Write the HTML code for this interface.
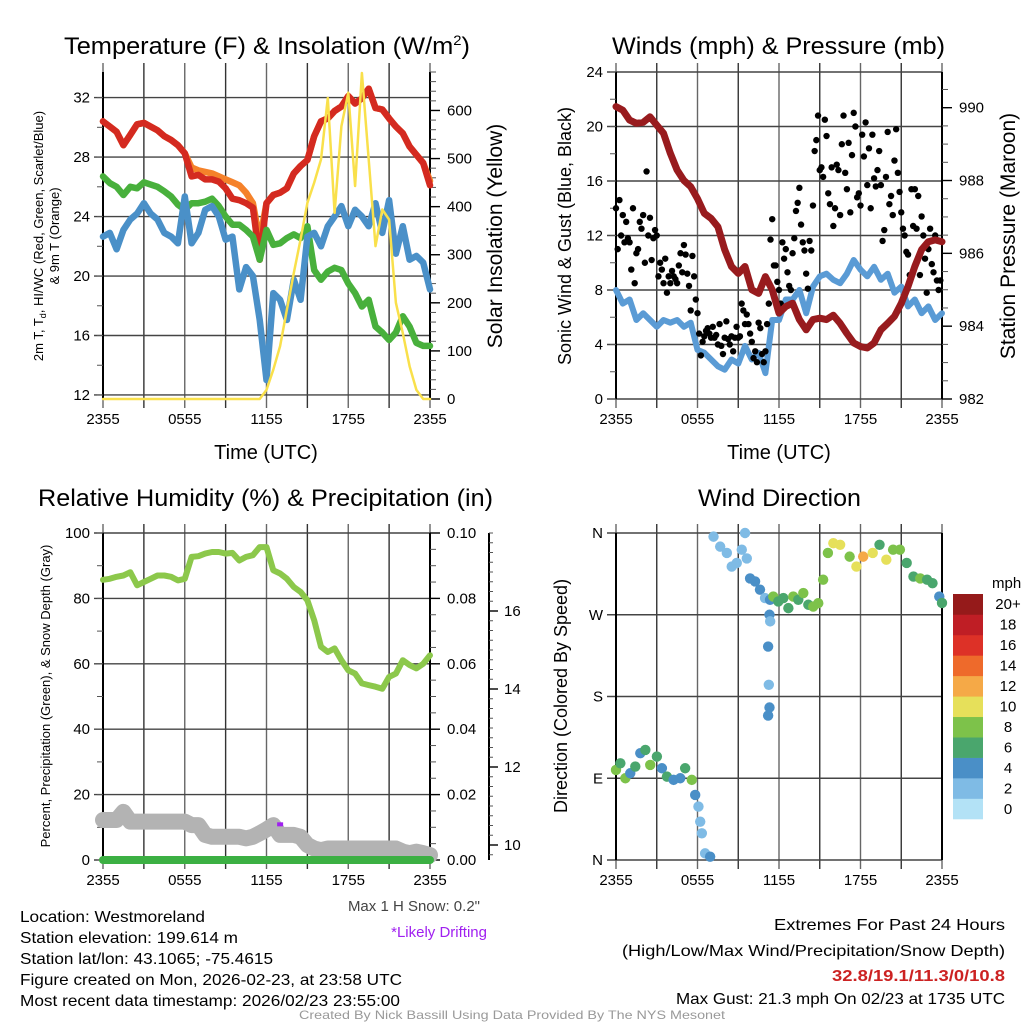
<!DOCTYPE html>
<html><head><meta charset="utf-8"><style>
html,body{margin:0;padding:0;background:#fff;}
svg{display:block;font-family:"Liberation Sans",Arial,sans-serif;}
</style></head><body>
<svg id="fig" width="1024" height="1024" viewBox="0 0 1024 1024" xmlns="http://www.w3.org/2000/svg">
<g id="static">
<text x="64" y="54" font-size="24" textLength="406" lengthAdjust="spacingAndGlyphs">Temperature (F) &amp; Insolation (W/m<tspan dy="-9" font-size="14">2</tspan><tspan dy="9">)</tspan></text>
<text x="612" y="54" font-size="24" textLength="333" lengthAdjust="spacingAndGlyphs">Winds (mph) &amp; Pressure (mb)</text>
<text x="38" y="506" font-size="24" textLength="455" lengthAdjust="spacingAndGlyphs">Relative Humidity (%) &amp; Precipitation (in)</text>
<text x="698" y="506" font-size="24" textLength="163" lengthAdjust="spacingAndGlyphs">Wind Direction</text>

<text x="266" y="459" font-size="20" text-anchor="middle">Time (UTC)</text>
<text x="779" y="459" font-size="20" text-anchor="middle">Time (UTC)</text>

<text transform="translate(43,236) rotate(-90)" font-size="13" text-anchor="middle">2m T, T<tspan font-size="9" dy="3">d</tspan><tspan dy="-3">, HI/WC (Red, Green, Scarlet/Blue)</tspan></text>
<text transform="translate(59,236) rotate(-90)" font-size="13" text-anchor="middle">&amp; 9m T (Orange)</text>
<text transform="translate(502,236) rotate(-90)" font-size="21" text-anchor="middle">Solar Insolation (Yellow)</text>
<text transform="translate(571,236) rotate(-90)" font-size="18" text-anchor="middle">Sonic Wind &amp; Gust (Blue, Black)</text>
<text transform="translate(1015,236) rotate(-90)" font-size="21" text-anchor="middle">Station Pressure (Maroon)</text>
<text transform="translate(50,696) rotate(-90)" font-size="13" text-anchor="middle">Percent, Precipitation (Green), &amp; Snow Depth (Gray)</text>
<text transform="translate(567,696) rotate(-90)" font-size="18" text-anchor="middle">Direction (Colored By Speed)</text>

<text x="480" y="911" font-size="15" fill="#444" text-anchor="end">Max 1 H Snow: 0.2"</text>
<text x="487" y="937" font-size="15" fill="#a020f0" text-anchor="end">*Likely Drifting</text>
<text x="20" y="922" font-size="16" textLength="185" lengthAdjust="spacingAndGlyphs">Location: Westmoreland</text>
<text x="20" y="943" font-size="16" textLength="218" lengthAdjust="spacingAndGlyphs">Station elevation: 199.614 m</text>
<text x="20" y="964" font-size="16" textLength="253" lengthAdjust="spacingAndGlyphs">Station lat/lon: 43.1065; -75.4615</text>
<text x="20" y="985" font-size="16" textLength="382" lengthAdjust="spacingAndGlyphs">Figure created on Mon, 2026-02-23, at 23:58 UTC</text>
<text x="20" y="1006" font-size="16" textLength="380" lengthAdjust="spacingAndGlyphs">Most recent data timestamp: 2026/02/23 23:55:00</text>
<text x="1005" y="930" font-size="16" text-anchor="end" textLength="231" lengthAdjust="spacingAndGlyphs">Extremes For Past 24 Hours</text>
<text x="1005" y="956" font-size="16" text-anchor="end" textLength="383" lengthAdjust="spacingAndGlyphs">(High/Low/Max Wind/Precipitation/Snow Depth)</text>
<text x="1005" y="981" font-size="16" font-weight="bold" fill="#cc2222" text-anchor="end" textLength="173" lengthAdjust="spacingAndGlyphs">32.8/19.1/11.3/0/10.8</text>
<text x="1005" y="1004" font-size="16" text-anchor="end" textLength="329" lengthAdjust="spacingAndGlyphs">Max Gust: 21.3 mph On 02/23 at 1735 UTC</text>
<text x="512" y="1019" font-size="12" fill="#999" text-anchor="middle" textLength="426" lengthAdjust="spacingAndGlyphs">Created By Nick Bassill Using Data Provided By The NYS Mesonet</text>
</g>
</svg>
<script>
// ---------- data (half-hour steps, hours 0..24) ----------
const timeLabels = ["2355","0555","1155","1755","2355"];
const tempRed = [30.4,30.05,29.7,28.8,29.5,30.2,30.3,30.05,29.8,29.4,29.15,28.8,28.25,26.7,26.8,26.5,26.5,26.35,25.9,25.2,25.1,24.9,24.6,21.1,24.9,25.45,25.6,25.9,26.9,27.4,27.8,29.4,30.4,30.6,31.1,31.4,32.1,31.6,31.95,32.6,31.3,31.2,30.6,30.05,29.6,28.7,28.15,27.6,26.1];
const temp9m = [30.4,30.05,29.7,28.8,29.5,30.2,30.3,30.05,29.8,29.4,29.15,28.8,28.25,27.3,27.1,27.0,26.9,26.7,26.5,26.3,26.1,25.6,24.9,22.4,24.9,25.45,25.6,25.9,26.9,27.4,27.8,29.4,30.4,30.6,31.1,31.4,32.1,31.6,31.95,32.6,31.3,31.2,30.6,30.05,29.6,28.7,28.15,27.6,26.4];
const dewGreen = [26.7,26.25,26.0,25.45,26.0,25.9,26.3,26.15,26.0,25.7,25.35,24.8,24.45,24.9,24.9,25.0,25.2,24.7,24.0,23.45,23.45,23.1,22.65,21.1,23.1,22.1,22.2,22.55,22.8,22.55,23.35,20.4,19.75,20.3,20.55,20.4,19.5,18.85,17.95,18.4,16.6,16.2,15.7,16.2,17.3,16.6,15.5,15.3,15.3];
const hiwcBlue = [22.65,22.9,21.8,23.1,23.8,24.2,24.9,24.2,23.8,22.9,22.65,22.2,25.35,22.2,22.9,24.45,24.7,24.0,22.45,22.65,19.1,20.6,20.0,17.05,13.0,18.85,18.4,17.05,19.75,18.4,22.65,22.9,22.0,23.35,24.0,24.7,23.35,24.45,24.0,23.35,24.9,22.9,25.1,21.5,23.35,21.1,21.35,20.9,19.1];
const solar = [0,0,0,0,0,0,0,0,0,0,0,0,0,0,0,0,0,0,0,0,0,0,0,0,19,61,110,186,262,332,408,450,498,626,387,567,637,443,678,498,318,394,373,200,137,68,19,0,0];
const tempTicks = [12,16,20,24,28,32];
const solarTicks = [0,100,200,300,400,500,600];

const pressure = [990.03,989.93,989.66,989.57,989.6,989.75,989.52,989.3,988.75,988.29,988.0,987.83,987.5,987.1,986.96,986.73,986.1,985.64,985.45,985.64,985.0,984.9,985.36,985.0,984.36,984.54,984.63,984.18,983.9,984.18,984.22,984.18,984.3,984.08,983.8,983.54,983.44,983.4,983.54,983.9,984.08,984.27,984.63,985.09,985.64,986.1,986.32,986.37,986.32];
const windBlue = [8.0,7.0,7.3,5.8,6.3,5.8,5.3,5.8,5.6,5.8,5.3,5.6,3.6,3.4,2.9,2.4,2.15,2.9,2.6,3.9,2.9,3.4,1.9,5.8,5.8,7.3,7.3,8.0,6.3,8.25,9.0,9.2,8.75,8.5,9.2,10.2,9.5,9.0,9.7,8.75,9.2,7.8,8.25,6.8,7.3,6.3,6.8,5.8,6.3];
// gusts, 8 per hour
const gusts = [14,11,14.6,12,13.5,11.5,13,11.8, 11.5,9.5,14,8.5,10.7,11,13,12.5, 13.5,10,16.7,12,13.3,10.2,11.8,12.4, 12,9,10,9.5,8.5,10.3,7.8,9, 8.5,9.4,9,8.8,8.5,9.8,10.7,9.3, 11.3,10.6,9.2,8.3,6.5,10.5,9,7.3, 6.3,4.8,3.2,4.2,4.6,5,5.2,4.8, 4.5,5.3,4.5,4.7,4.0,5.5,3.9,3.3, 4.5,5.7,4.4,4,4.6,3.5,4.5,5.3, 4.5,4.6,7,6.5,5.5,6.2,5.5,4.8, 4.2,3.0,3.5,2.7,5.6,5.2,3.3,2.7, 3.5,5.5,7.0,11.7,13.2,9.8,9.8,8.6, 8.0,7.0,11.5,10.3,11.0,9.3,8.3,8.0, 10.7,11.8,13.8,14.4,15.5,12.8,11.5,10.9, 9.2,8.1,11.6,10.9,14.2,18.2,19.0,20.8, 16.8,17.0,16.3,20.5,19.3,15.1,14.3,17.0, 12.7,14.0,17.2,16.8,13.5,18.7,20.8,16.6, 15.4,18.8,13.7,17.9,21.0,20.0,14.8,15.1, 14.2,19.4,17.8,20.3,15.7,18.4,14.0,19.4, 16.2,15.6,16.8,18.2,15.7,11.6,12.4,16.3, 19.6,14.3,14.9,13.5,17.5,19.8,16.6,15.2, 13.7,12.5,12.0,10.8,10.6,9.1,15.4,12.7, 15.4,12.5,14.9,9.1,13.4,12.0,10.3,7.8, 11.0,12.5,9.9,9.3,12.0,8.7,8.0,8.7];
const windTicks = [0,4,8,12,16,20,24];
const pressTicks = [982,984,986,988,990];

const rh = [85.7,86,86.6,87,88,84,85,86,87,87,86.6,85.5,86,92.7,92.9,93.7,94.2,94.2,93.7,93.9,91.6,92.7,93.2,95.7,95.7,88.6,87.6,86,83.5,82,79.4,73.3,65.2,63.6,64.7,61.1,58,57,54,53.5,53,52.4,56,57,61.1,59.6,58.6,60,62.6];
const snowDepth = [10.64,10.64,10.64,10.85,10.6,10.6,10.6,10.6,10.6,10.6,10.6,10.6,10.6,10.51,10.51,10.26,10.21,10.21,10.21,10.21,10.21,10.17,10.21,10.3,10.4,10.51,10.26,10.26,10.26,10.21,10.0,9.91,9.87,9.91,9.91,9.91,9.91,9.91,9.91,9.91,9.91,9.91,9.91,9.91,9.83,9.79,9.83,9.79,9.74];
const precip = [0,0,0,0,0,0,0,0,0,0,0,0,0,0,0,0,0,0,0,0,0,0,0,0,0,0,0,0,0,0,0,0,0,0,0,0,0,0,0,0,0,0,0,0,0,0,0,0,0];
const rhTicks = [0,20,40,60,80,100];
const precipTicks = ["0.00","0.02","0.04","0.06","0.08","0.10"];
const snowTicks = [10,12,14,16];

const dirHours = [0,0.32,0.69,1.05,1.42,1.79,2.16,2.52,3.01,3.38,3.75,4.24,4.73,5.09,5.58,5.83,6.07,6.2,6.32,6.56,6.93, 7.18,7.67,8.16,8.52,8.89,9.26,9.5,9.63,9.87,10.24,10.6,10.97,11.34, 11.3,11.35,11.2,11.25,11.3,11.2, 11.58,11.95,12.32,12.69,13.05,13.42,13.79,14.16,14.52,14.89, 15.25,15.6,16.0,16.5,17.2,17.7,18.2,18.9,19.4,19.9,20.4,20.9,21.4,21.9,22.4,22.9,23.3,23.8,24.0];
const dirDeg = [99.2,106.5,90,95.5,102.9,117.6,121.2,104.7,113.9,101,91.8,88.2,90,101,88.2,71.6,58.8,42.2,29.4,7.3,3.7, 356,345,338,323,327,341.6,360,332,310,306.7,297.6,288.4,286.5, 270,262.7,235,192.9,167.9,159, 290,284.7,288.4,277.3,290,286.5,293.9,281,279,282.7, 308.6,338,348.8,347,334,323,334,338,347,330.6,341.6,341.6,327,312,310,308.6,304.8,290,283];
const dirSpeed = [7,6,8,4,6,4,6,7,6,4,6,4,4,6,7,4,2,2,2,2,3, 2,2,2,2,2,2,2,2,4,4,3,2,3, 3,1,3,1,3,3, 8,6,6,6,8,6,8,6,8,8, 7,7,10,10,8,10,11,10,6,10,8,7,6,6,7,6,6,4,6];
const dirTicks = ["N","E","S","W","N"];
const speedLabels = ["0","2","4","6","8","10","12","14","16","18","20+"];
const speedColors = ["#b3e2f6","#7fbbe5","#4a8fc7","#4aa66d","#7dc24a","#e6e05a","#f5a947","#ee6a2b","#dd3127","#bf1e25","#951a1a"];

// ---------- helpers ----------
const NS = "http://www.w3.org/2000/svg";
const svg = document.getElementById("fig");
function mk(tag, attrs, parent) {
  const e = document.createElementNS(NS, tag);
  for (const k in attrs) e.setAttribute(k, attrs[k]);
  (parent || svg).appendChild(e);
  return e;
}
function halfHours(arr) { return arr.map((v, i) => i * 24 / (arr.length - 1)); }
function pathFrom(xs, ys) { return xs.map((x, i) => (i ? "L" : "M") + x.toFixed(1) + " " + ys[i].toFixed(1)).join(""); }

const P = {
  tl: {x0: 103, x1: 430, y0: 72, y1: 399},
  tr: {x0: 616, x1: 942, y0: 72, y1: 399},
  bl: {x0: 103, x1: 430, y0: 533, y1: 860},
  br: {x0: 616, x1: 942, y0: 533, y1: 860}
};
function xs(p, h) { return p.x0 + h * (p.x1 - p.x0) / 24; }
function lin(d0, d1, r0, r1) { return v => r0 + (v - d0) * (r1 - r0) / (d1 - d0); }

function frame(p, key, yGridVals, yScale) {
  const g = mk("g", {});
  
  
  for (let i = 0; i <= 8; i++) {
    const x = xs(p, i * 3);
    const l = mk("line", {x1: x, x2: x, y1: p.y0 - 9, y2: p.y1 + 9, stroke: i % 2 ? "#333" : "#666", "stroke-width": 1.4}, g);
    
    
  }
  yGridVals.forEach(v => {
    const y = yScale(v);
    const l = mk("line", {x1: p.x0 - 9, x2: p.x1, y1: y, y2: y, stroke: "#444", "stroke-width": 1.4}, g);
    
    
  });
  const la = mk("line", {x1: p.x0, x2: p.x0, y1: p.y0, y2: p.y1, stroke: "#000", "stroke-width": 2}, g);
  
  
  const ra = mk("line", {x1: p.x1, x2: p.x1, y1: p.y0, y2: p.y1, stroke: "#000", "stroke-width": 2}, g);
  
  
  timeLabels.forEach((t, i) => {
    const tx = mk("text", {x: xs(p, i * 6), y: p.y1 + 25, "font-size": 15, "text-anchor": "middle"}, g);
    tx.textContent = t;
    
    
  });
}
function leftLabels(p, key, vals, scale, texts) {
  vals.forEach((v, i) => {
    const tx = mk("text", {x: p.x0 - 13, y: scale(v) + 5, "font-size": 15, "text-anchor": "end"});
    tx.textContent = texts ? texts[i] : v;
    
    
  });
}
function rightAxis(p, key, vals, scale, texts, minorStep, minorFrom, minorTo) {
  for (let v = minorFrom; v <= minorTo + 1e-9; v += minorStep) {
    const y = scale(v);
    if (y < p.y0 - 0.5 || y > p.y1 + 0.5) continue;
    const t = mk("line", {x1: p.x1, x2: p.x1 + 6, y1: y, y2: y, stroke: "#555", "stroke-width": 1});
    
    
  }
  vals.forEach((v, i) => {
    const y = scale(v);
    const t = mk("line", {x1: p.x1, x2: p.x1 + 10, y1: y, y2: y, stroke: "#000", "stroke-width": 1.4});
    
    
    const tx = mk("text", {x: p.x1 + 17, y: y + 5, "font-size": 15});
    tx.textContent = texts ? texts[i] : v;
    
    
  });
}
function leftMinor(p, key, step, from, to, scale) {
  for (let v = from; v <= to + 1e-9; v += step) {
    const y = scale(v);
    if (y < p.y0 - 0.5 || y > p.y1 + 0.5) continue;
    const t = mk("line", {x1: p.x0 - 6, x2: p.x0, y1: y, y2: y, stroke: "#555", "stroke-width": 1});
    
    
  }
}
function line(p, arr, scale, color, w, name) {
  const hx = halfHours(arr).map(h => xs(p, h));
  const el = mk("path", {d: pathFrom(hx, arr.map(scale)), fill: "none", stroke: color, "stroke-width": w, "stroke-linejoin": "round", "stroke-linecap": "round"});
  
  
  return el;
}

// ---------- Top-left: temperature ----------
{
  const p = P.tl;
  const yT = lin(11.73, 33.72, p.y1, p.y0);
  const yS = lin(0, 680, p.y1, p.y0);
  frame(p, "temperature", tempTicks, yT);
  leftMinor(p, "temperature", 2, 12, 33, yT);
  leftLabels(p, "temperature", tempTicks, yT);
  rightAxis(p, "solar", solarTicks, yS, null, 20, 0, 680);
  line(p, temp9m, yT, "#f5822a", 6.5, "temp-9m-line");
  line(p, tempRed, yT, "#d42a20", 6.5, "temp-2m-line");
  line(p, dewGreen, yT, "#48b03c", 6.5, "dewpoint-line");
  line(p, hiwcBlue, yT, "#4a90c8", 6.5, "heat-index-windchill-line");
  line(p, solar, yS, "#f9e04b", 2.5, "solar-insolation-line");
}
// ---------- Top-right: winds ----------
{
  const p = P.tr;
  const yW = lin(0, 24, p.y1, p.y0);
  const yP = lin(982, 990.98, p.y1, p.y0);
  frame(p, "winds", windTicks, yW);
  leftMinor(p, "winds", 2, 0, 24, yW);
  leftLabels(p, "winds", windTicks, yW);
  rightAxis(p, "pressure", pressTicks, yP, null, 0.5, 982, 991);
  line(p, windBlue, yW, "#5a9bd5", 6, "sonic-wind-line");
  const gg = mk("g", {});
  
  
  gusts.forEach((v, i) => {
    const c = mk("circle", {cx: xs(p, i / 8), cy: yW(v), r: 3.2, fill: "#000"}, gg);
    
    
  });
  line(p, pressure, yP, "#981b1e", 7, "station-pressure-line");
}
// ---------- Bottom-left: humidity ----------
{
  const p = P.bl;
  const yR = lin(0, 100, p.y1, p.y0);
  const yPr = lin(0, 0.1, p.y1, p.y0);
  const ySn = lin(10, 16, 845, 611);
  frame(p, "humidity", rhTicks, yR);
  leftMinor(p, "humidity", 10, 0, 100, yR);
  leftLabels(p, "humidity", rhTicks, yR);
  rightAxis(p, "precip", [0, 0.02, 0.04, 0.06, 0.08, 0.1], yPr, precipTicks, 0.005, 0, 0.1);
  const ax = mk("line", {x1: 489, x2: 489, y1: p.y0, y2: p.y1, stroke: "#000", "stroke-width": 2});
  
  
  for (let v = 9.75; v <= 18; v += 0.25) {
    const y = ySn(v);
    if (y < p.y0 || y > p.y1) continue;
    const t = mk("line", {x1: 489, x2: 493, y1: y, y2: y, stroke: "#555", "stroke-width": 1});
    
    
  }
  snowTicks.forEach(v => {
    const t = mk("line", {x1: 489, x2: 498, y1: ySn(v), y2: ySn(v), stroke: "#000", "stroke-width": 1.4});
    
    
    const tx = mk("text", {x: 504, y: ySn(v) + 5, "font-size": 15});
    tx.textContent = v;
    
    
  });
  line(p, rh, yR, "#8cc84b", 6, "relative-humidity-line");
  line(p, snowDepth, ySn, "#b3b3b3", 16, "snow-depth-line");
  line(p, precip, yPr, "#3cb043", 8, "precipitation-line");
  const dr = mk("rect", {x: xs(p, 13.0) - 3, y: ySn(10.53) - 2, width: 6, height: 4, fill: "#a020f0"});
  
  
}
// ---------- Bottom-right: wind direction ----------
{
  const p = P.br;
  const yD = lin(0, 360, p.y1, p.y0);
  frame(p, "direction", [0, 90, 180, 270, 360], yD);
  leftLabels(p, "direction", [0, 90, 180, 270, 360], yD, ["N","E","S","W","N"]);
  const gg = mk("g", {});
  
  
  dirDeg.forEach((d, i) => {
    const idx = Math.min(10, Math.max(0, Math.round(dirSpeed[i] / 2)));
    const c = mk("circle", {cx: xs(p, dirHours[i]), cy: yD(d), r: 5.2, fill: speedColors[idx]}, gg);
    
    
  });
  const lt = mk("text", {x: 992, y: 588, "font-size": 15});
  lt.textContent = "mph";
  
  
  const bh = (819 - 594) / 11;
  speedColors.forEach((c, i) => {
    const y = 819 - (i + 1) * bh;
    const r = mk("rect", {x: 953, y: y, width: 30, height: bh + 0.3, fill: c});
    
    
    const tx = mk("text", {x: 1008, y: y + bh / 2 + 5, "font-size": 15, "text-anchor": "middle"});
    tx.textContent = speedLabels[i];
    
    
  });
}
</script>
</body></html>
